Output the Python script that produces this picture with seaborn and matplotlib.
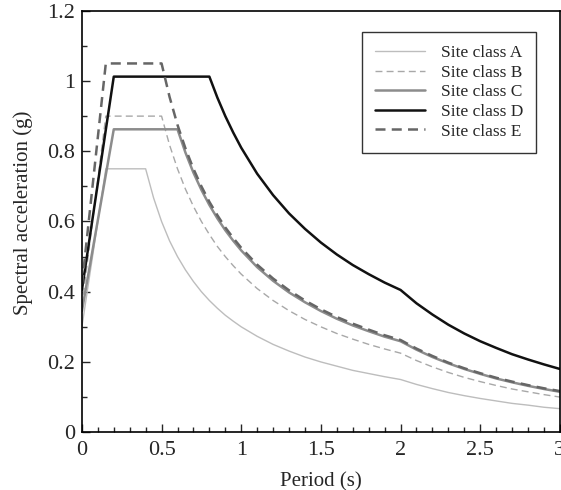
import pandas as pd
import seaborn as sns
import matplotlib.pyplot as plt
from matplotlib.ticker import MultipleLocator

# periods (s) where the spectra were read
periods = [0, 0.15, 0.2, 0.4, 0.45, 0.5, 0.55, 0.6, 0.65, 0.7, 0.75, 0.8,
           0.85, 0.9, 0.95, 1.0, 1.1, 1.2, 1.3, 1.4, 1.5, 1.6, 1.7, 1.8,
           1.9, 2.0, 2.1, 2.2, 2.3, 2.4, 2.5, 2.6, 2.7, 2.8, 2.9, 3.0]

site_a = [0.30, 0.75, 0.75, 0.75, 0.667, 0.60, 0.545, 0.50, 0.462, 0.429, 0.40, 0.375,
          0.353, 0.333, 0.316, 0.30, 0.273, 0.25, 0.231, 0.214, 0.20, 0.188, 0.176, 0.167,
          0.158, 0.15, 0.136, 0.124, 0.113, 0.104, 0.096, 0.089, 0.082, 0.077, 0.071, 0.067]
site_b = [0.36, 0.90, 0.90, 0.90, 0.90, 0.90, 0.818, 0.75, 0.692, 0.643, 0.60, 0.563,
          0.529, 0.50, 0.474, 0.45, 0.409, 0.375, 0.346, 0.321, 0.30, 0.281, 0.265, 0.25,
          0.237, 0.225, 0.204, 0.186, 0.170, 0.156, 0.144, 0.133, 0.123, 0.115, 0.107, 0.10]
site_c = [0.345, 0.733, 0.8625, 0.8625, 0.8625, 0.8625, 0.8625, 0.8625, 0.796, 0.739, 0.69, 0.647,
          0.609, 0.575, 0.545, 0.5175, 0.470, 0.431, 0.398, 0.370, 0.345, 0.323, 0.304, 0.2875,
          0.272, 0.259, 0.235, 0.214, 0.196, 0.180, 0.166, 0.153, 0.142, 0.132, 0.123, 0.115]
site_d = [0.405, 0.861, 1.0125, 1.0125, 1.0125, 1.0125, 1.0125, 1.0125, 1.0125, 1.0125, 1.0125, 1.0125,
          0.953, 0.90, 0.853, 0.81, 0.736, 0.675, 0.623, 0.579, 0.54, 0.506, 0.476, 0.45,
          0.426, 0.405, 0.367, 0.335, 0.306, 0.281, 0.259, 0.240, 0.222, 0.207, 0.193, 0.18]
site_e = [0.42, 1.05, 1.05, 1.05, 1.05, 1.05, 0.955, 0.875, 0.808, 0.75, 0.70, 0.656,
          0.618, 0.583, 0.553, 0.525, 0.477, 0.4375, 0.404, 0.375, 0.35, 0.328, 0.309, 0.292,
          0.276, 0.2625, 0.238, 0.217, 0.198, 0.182, 0.168, 0.155, 0.144, 0.134, 0.125, 0.117]

labels = ['Site class A', 'Site class B', 'Site class C', 'Site class D', 'Site class E']
series = [site_a, site_b, site_c, site_d, site_e]
colors = ['#bdbdbd', '#a8a8a8', '#8c8c8c', '#111111', '#666666']
styles = ['-', (0, (5, 3)), '-', '-', (0, (4, 2.5))]
widths = [1.0, 1.0, 1.8, 1.8, 1.8]

sns.set_style('ticks')
plt.rcParams['font.family'] = ['Liberation Serif', 'DejaVu Serif']

fig = plt.figure(figsize=(5.61, 4.90), dpi=100)
ax = fig.add_axes([0.146, 0.118, 0.852, 0.86])

for lab, vals, c, ls, lw in zip(labels, series, colors, styles, widths):
    df = pd.DataFrame({'period': periods, 'sa': vals})
    sns.lineplot(data=df, x='period', y='sa', color=c, linestyle=ls,
                 linewidth=lw, label=lab, ax=ax)

ax.set_xlim(0, 3)
ax.set_ylim(0, 1.2)
ax.xaxis.set_major_locator(MultipleLocator(0.5))
ax.xaxis.set_minor_locator(MultipleLocator(0.1))
ax.yaxis.set_major_locator(MultipleLocator(0.2))
ax.yaxis.set_minor_locator(MultipleLocator(0.1))
ax.xaxis.set_major_formatter(plt.FuncFormatter(lambda v, p: f'{v:g}'))
ax.yaxis.set_major_formatter(plt.FuncFormatter(lambda v, p: f'{v:g}'))
ax.tick_params(which='both', direction='in', labelsize=16, width=1)
ax.tick_params(axis='x', which='major', length=6, pad=6)
ax.tick_params(axis='y', which='major', length=6, pad=5)
ax.tick_params(which='minor', length=3.5)
for s in ax.spines.values():
    s.set_linewidth(1.2)
    s.set_color('black')

ax.set_xlabel('Period (s)', fontsize=15)
ax.set_ylabel('Spectral acceleration (g)', fontsize=15)
ax.xaxis.set_label_coords(0.5, -0.095)
ax.yaxis.set_label_coords(-0.103, 0.52)

leg = ax.legend(loc='upper right', bbox_to_anchor=(0.95, 0.95), borderaxespad=0,
                fontsize=12.5, frameon=True, fancybox=False, handlelength=2.9,
                labelspacing=0.2, handletextpad=0.9, borderpad=0.75)
leg.get_frame().set_edgecolor('black')
leg.get_frame().set_linewidth(1.0)

fig.savefig('out.png', dpi=100)
